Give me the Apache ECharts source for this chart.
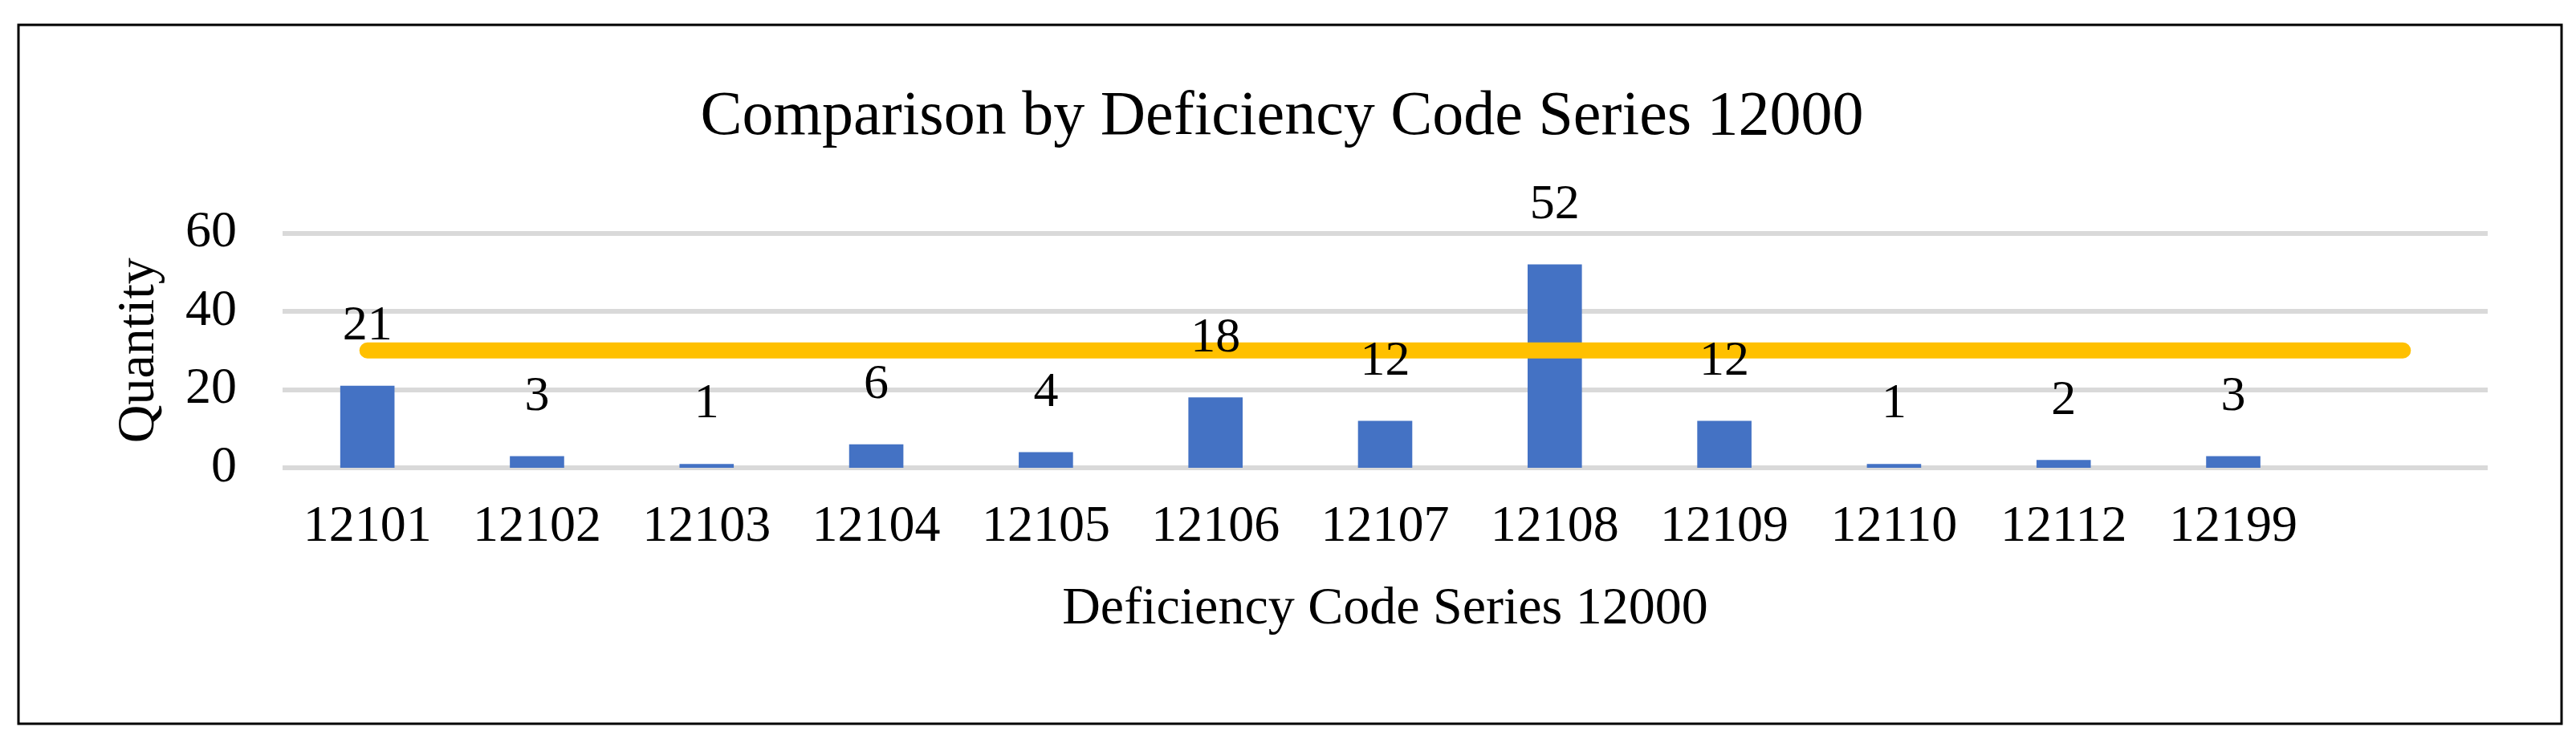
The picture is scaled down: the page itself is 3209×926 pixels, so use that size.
<!DOCTYPE html>
<html>
<head>
<meta charset="utf-8">
<script src="https://cdn.jsdelivr.net/npm/echarts@6/dist/echarts.min.js"></script>
<style>
html,body{margin:0;padding:0;background:#fff;}
#chart{width:3209px;height:926px;}
</style>
</head>
<body>
<div id="chart"></div>
<script>
const categories = ['12101','12102','12103','12104','12105','12106','12107','12108','12109','12110','12112','12199',''];
const quantities = [21,3,1,6,4,18,12,52,12,1,2,3,null];
const averageLine = [30,30,30,30,30,30,30,30,30,30,30,30,30];
const yTicks = {min:0, max:60, interval:20};
const titleText = 'Comparison by Deficiency Code Series 12000';
const xAxisName = 'Deficiency Code Series 12000';
const yAxisName = 'Quantity';

const FONT = "'Liberation Serif', 'Times New Roman', serif";
const chart = echarts.init(document.getElementById('chart'));
chart.setOption({
  animation: false,
  backgroundColor: '#fff',
  textStyle: {fontFamily: FONT, color: '#000'},
  title: {
    text: titleText,
    left: 1592, textAlign: 'center', top: 103,
    textStyle: {fontFamily: FONT, fontSize: 78, fontWeight: 'normal', color: '#000'}
  },
  graphic: [{
    type: 'rect', z: 100, silent: true,
    shape: {x: 23, y: 31, width: 3168, height: 871},
    style: {fill: 'none', stroke: '#000', lineWidth: 3}
  }],
  grid: {left: 352, right: 110, top: 290.5, bottom: 343, containLabel: false},
  xAxis: {
    type: 'category',
    data: categories,
    name: xAxisName,
    nameLocation: 'middle',
    nameGap: 144,
    nameTextStyle: {fontFamily: FONT, fontSize: 66, color: '#000'},
    axisLine: {show: false},
    axisTick: {show: false},
    axisLabel: {interval: 0, fontFamily: FONT, fontSize: 64, color: '#000', margin: 42},
    splitLine: {show: false}
  },
  yAxis: {
    type: 'value',
    min: yTicks.min, max: yTicks.max, interval: yTicks.interval,
    name: yAxisName,
    nameLocation: 'middle',
    nameGap: 145,
    nameRotate: 90,
    nameTextStyle: {fontFamily: FONT, fontSize: 66, color: '#000'},
    axisLine: {show: false},
    axisTick: {show: false},
    axisLabel: {fontFamily: FONT, fontSize: 64, color: '#000', margin: 57},
    splitLine: {show: true, lineStyle: {color: '#D9D9D9', width: 6}}
  },
  series: [
    {
      type: 'bar',
      data: quantities,
      barWidth: '32%',
      barGap: '-100%',
      itemStyle: {color: '#4472C4'},
      z: 2
    },
    {
      type: 'line',
      data: averageLine,
      symbol: 'none',
      lineStyle: {color: '#FFC000', width: 20, cap: 'round'},
      z: 3
    },
    {
      type: 'bar',
      data: quantities,
      barWidth: '32%',
      barGap: '-100%',
      itemStyle: {color: 'rgba(0,0,0,0)'},
      label: {show: true, position: 'top', distance: 43, fontFamily: FONT, fontSize: 62, color: '#000'},
      z: 5,
      silent: true
    }
  ]
});
</script>
</body>
</html>
